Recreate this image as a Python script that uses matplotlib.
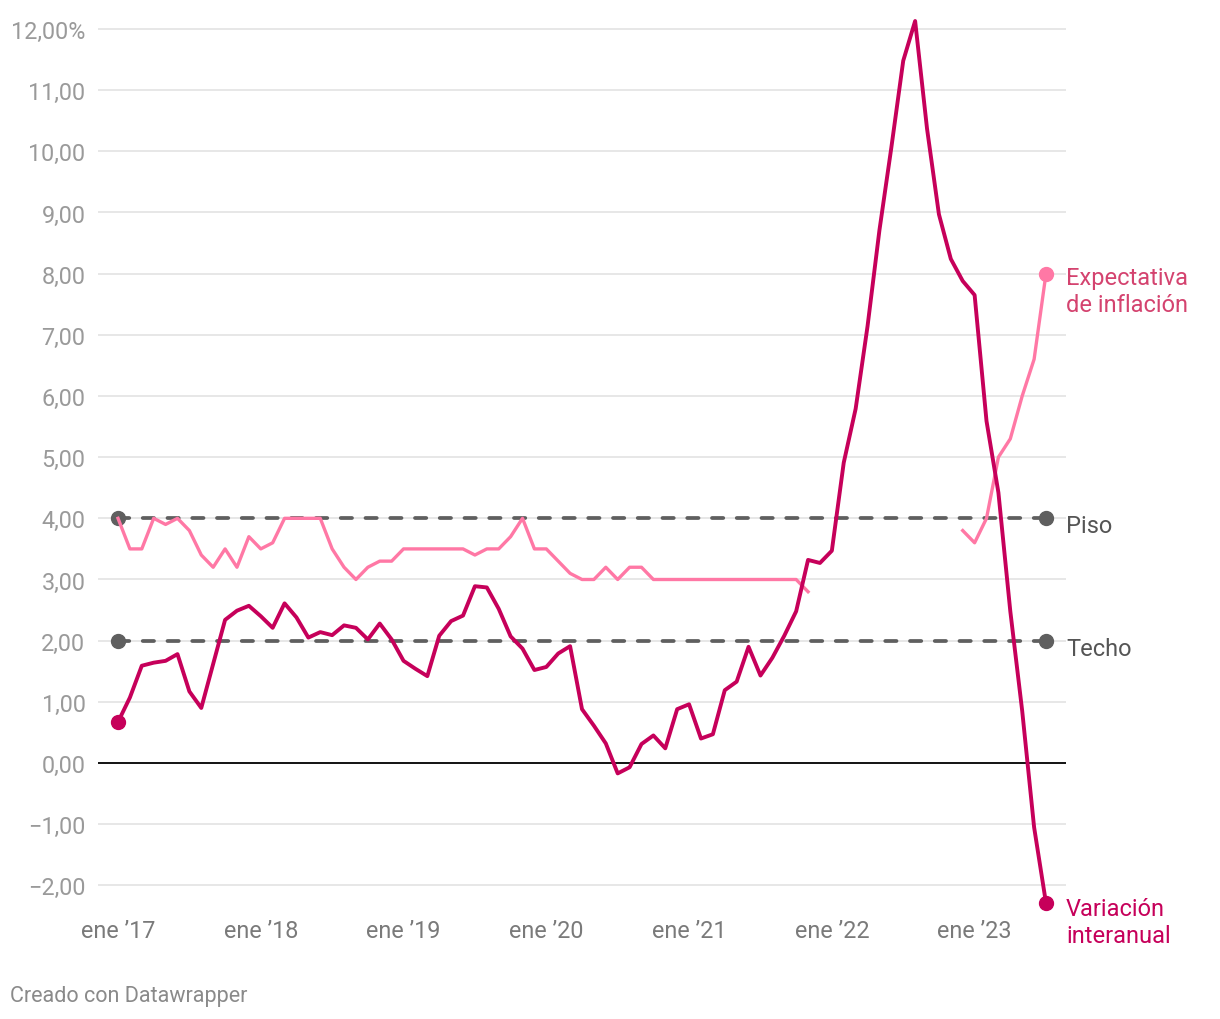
import numpy as np
import matplotlib
matplotlib.use("Agg")
import matplotlib.pyplot as plt

plt.rcParams['font.family'] = ['Roboto', 'DejaVu Sans']

# monthly data, ene 2017 .. jul 2023 (index 0..78)
inflacion = [0.67, 1.07, 1.59, 1.64, 1.67, 1.78, 1.17, 0.90, 1.62, 2.34, 2.49, 2.57,
             2.40, 2.21, 2.61, 2.38, 2.05, 2.14, 2.09, 2.25, 2.21, 2.02, 2.28, 2.02,
             1.67, 1.54, 1.42, 2.08, 2.32, 2.41, 2.89, 2.87, 2.52, 2.07, 1.87, 1.52,
             1.57, 1.79, 1.91, 0.88, 0.61, 0.32, -0.17, -0.07, 0.31, 0.45, 0.24, 0.88,
             0.96, 0.40, 0.47, 1.19, 1.33, 1.90, 1.43, 1.72, 2.08, 2.48, 3.32, 3.27,
             3.47, 4.91, 5.79, 7.14, 8.71, 10.06, 11.48, 12.13, 10.37, 8.97, 8.24, 7.88,
             7.65, 5.59, 4.42, 2.48, 0.85, -1.05, -2.29]

# None = no data
expectativa = [4.0, 3.5, 3.5, 4.0, 3.9, 4.0, 3.8, 3.4, 3.2, 3.5, 3.2, 3.7,
               3.5, 3.6, 4.0, 4.0, 4.0, 4.0, 3.5, 3.2, 3.0, 3.2, 3.3, 3.3,
               3.5, 3.5, 3.5, 3.5, 3.5, 3.5, 3.4, 3.5, 3.5, 3.7, 4.0, 3.5,
               3.5, 3.3, 3.1, 3.0, 3.0, 3.2, 3.0, 3.2, 3.2, 3.0, 3.0, 3.0,
               3.0, 3.0, 3.0, 3.0, 3.0, 3.0, 3.0, 3.0, 3.0, 3.0, 2.8, None,
               None, None, None, None, None, None, None, None, None, None, None, 3.8,
               3.6, 4.0, 5.0, 5.3, 6.0, 6.6, 8.0]

piso = 4.0
techo = 2.0

yticks = [12, 11, 10, 9, 8, 7, 6, 5, 4, 3, 2, 1, 0, -1, -2]
ytick_labels = ['12,00%', '11,00', '10,00', '9,00', '8,00', '7,00', '6,00', '5,00',
                '4,00', '3,00', '2,00', '1,00', '0,00', '\u22121,00', '\u22122,00']
xticks = [0, 12, 24, 36, 48, 60, 72]
xtick_labels = ["ene \u201917", "ene \u201918", "ene \u201919", "ene \u201920",
                "ene \u201921", "ene \u201922", "ene \u201923"]

C_INF = '#c6005a'
C_EXP = '#ff78a5'
C_EXP_TXT = '#d4436f'
C_REF = '#5f5f5f'

fig = plt.figure(figsize=(12.2, 10.2), dpi=100)
ax = fig.add_axes([98 / 1220, 1 - 910 / 1020, 968 / 1220, 895 / 1020])

months = np.arange(len(inflacion))
last = months[-1]
px_per_month = 928 / 78
ax.set_xlim(-20 / px_per_month, last + 20 / px_per_month)
ax.set_ylim((764 - 910) / 61.17, (764 - 15) / 61.17)

for v in yticks:
    if v == 0:
        ax.axhline(0, color='black', lw=1.3, zorder=2)
    else:
        ax.axhline(v, color='#e3e3e3', lw=1.2, zorder=1)

# reference lines (Piso / Techo)
for v in (piso, techo):
    ax.plot([0, last], [v, v], color=C_REF, lw=2.7, ls=(0, (3.0, 3.6)),
            dash_capstyle='round', zorder=3)
    ax.plot([0, last], [v, v], 'o', color=C_REF, ms=10, zorder=4, clip_on=False)

exp = np.array([np.nan if e is None else e for e in expectativa])
ax.plot(months, exp, color=C_EXP, lw=2.4, zorder=5)
ax.plot([last], [exp[-1]], 'o', color=C_EXP, ms=10, zorder=6, clip_on=False)

ax.plot(months, inflacion, color=C_INF, lw=2.8, zorder=7, clip_on=False)
ax.plot([0, last], [inflacion[0], inflacion[-1]], 'o', color=C_INF, ms=10,
        zorder=8, clip_on=False)

ax.set_yticks(yticks)
ax.set_yticklabels(ytick_labels)
ax.set_xticks(xticks)
ax.set_xticklabels(xtick_labels)
ax.tick_params(axis='y', length=0, pad=9, labelsize=16.8, labelcolor='#9a9a9a')
ax.tick_params(axis='x', length=0, pad=7, labelsize=16.8, labelcolor='#7a7a7a')
for s in ax.spines.values():
    s.set_visible(False)

xl = last + 20 / px_per_month
ax.text(xl, 7.72, 'Expectativa\nde inflación', color=C_EXP_TXT, fontsize=17,
        va='center', ha='left', linespacing=1.2, clip_on=False)
ax.text(xl, 3.88, 'Piso', color='#555555', fontsize=17, va='center', ha='left')
ax.text(xl, 1.88, 'Techo', color='#555555', fontsize=17, va='center', ha='left')
ax.text(xl, -2.6, 'Variación\ninteranual', color=C_INF, fontsize=17,
        va='center', ha='left', linespacing=1.2, clip_on=False)

fig.text(10 / 1220, 1 - 997 / 1020, 'Creado con Datawrapper', color='#8a8a8a',
         fontsize=15.5, va='center', ha='left')

fig.savefig('out.png', dpi=100, facecolor='white')
